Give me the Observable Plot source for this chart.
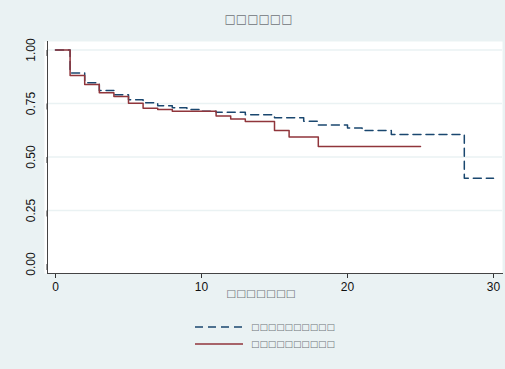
<!DOCTYPE html>
<html>
<head>
<meta charset="utf-8">
<script src="https://cdn.jsdelivr.net/npm/d3@7"></script>
<script src="https://cdn.jsdelivr.net/npm/@observablehq/plot@0.6"></script>
<style>
  html, body { margin: 0; padding: 0; background: #eaf2f3; }
  body { width: 505px; height: 369px; overflow: hidden; font-family: "Liberation Sans", Arial, sans-serif; }
  #title { height: 35px; position: relative; }
  #title span { position: absolute; left: 258.5px; top: 19px; transform: translate(-50%, -50%); font-family: "DejaVu Sans"; font-size: 12px; color: #6f7479; white-space: nowrap; }
  #legend { position: relative; height: 64px; }
  .sw { position: absolute; left: 195px; width: 48px; height: 4px; }
  .lab { position: absolute; left: 251px; font-family: "DejaVu Sans"; font-size: 8.9px; color: #6f7479; white-space: nowrap; transform: translateY(-50%); }
  svg.plot { display: block; }
</style>
</head>
<body>
<div id="title"><span></span></div>
<div id="chart"></div>
<div id="legend"></div>
<script>
// ---- data ----
const titleText = "□□□□□□";
const xTitle = "□□□□□□□";
const seriesNames = ["□□□□□□□□□□", "□□□□□□□□□□"];
const xTicks = [0, 10, 20, 30];
const yTicks = [0, 0.25, 0.5, 0.75, 1];

const blueTime = [0, 1, 2, 3, 4, 5, 6, 7, 8, 9, 10, 11, 13, 15, 17, 18, 20, 21, 23, 28, 30];
const blueSurv = [1, 0.893, 0.847, 0.811, 0.791, 0.767, 0.753, 0.739, 0.730, 0.722, 0.714, 0.709, 0.697, 0.683, 0.667, 0.649, 0.636, 0.624, 0.605, 0.401, 0.401];

const redTime = [0, 1, 2, 3, 4, 5, 6, 7, 8, 11, 12, 13, 15, 16, 18, 25];
const redSurv = [1, 0.881, 0.839, 0.800, 0.783, 0.751, 0.728, 0.722, 0.714, 0.691, 0.678, 0.666, 0.624, 0.593, 0.549, 0.549];

const blueColor = "#1a476f";
const redColor = "#90353b";
const dash = "8,5";

const blue = blueTime.map((t, i) => ({t, s: blueSurv[i]}));
const red = redTime.map((t, i) => ({t, s: redSurv[i]}));

document.querySelector("#title span").textContent = titleText;

const plot = Plot.plot({
  width: 505,
  height: 270,
  marginTop: 6,
  marginLeft: 47,
  marginRight: 3,
  marginBottom: 32,
  style: {background: "transparent", fontFamily: "'Liberation Sans', Arial, sans-serif", fontSize: "12px", color: "#111"},
  x: {domain: [-0.548, 30.616]},
  y: {domain: [-0.0444, 1.0397]},
  marks: [
    Plot.frame({fill: "white", stroke: null, insetLeft: -3}),
    Plot.gridY(yTicks.filter(v => v > 0), {stroke: "#eaf2f3", strokeOpacity: 1, strokeWidth: 1.5}),
    Plot.axisY(yTicks, {tickFormat: d => d.toFixed(2), rotate: -90, textAnchor: "middle", tickSize: 6, tickPadding: 10, label: null, stroke: "#333"}),
    Plot.axisX(xTicks, {tickSize: 5, tickPadding: 4, label: null, stroke: "#333"}),
    Plot.frame({anchor: "left", stroke: "#444"}),
    Plot.frame({anchor: "bottom", stroke: "#444"}),
    Plot.line(blue, {x: "t", y: "s", curve: "step-after", stroke: blueColor, strokeWidth: 1.5, strokeDasharray: dash}),
    Plot.line(red, {x: "t", y: "s", curve: "step-after", stroke: redColor, strokeWidth: 1.5}),
    Plot.text([xTitle], {frameAnchor: "bottom", dy: 20, dx: -14, lineAnchor: "middle", fontFamily: "DejaVu Sans", fontSize: 10.5, fill: "#6f7479"})
  ]
});
document.getElementById("chart").appendChild(plot);

// legend
const legend = document.getElementById("legend");
const rows = [
  {name: seriesNames[0], color: blueColor, dash: dash, y: 21.7},
  {name: seriesNames[1], color: redColor, dash: null, y: 39.3}
];
for (const r of rows) {
  const ns = "http://www.w3.org/2000/svg";
  const svg = document.createElementNS(ns, "svg");
  svg.setAttribute("class", "sw");
  svg.setAttribute("width", 48);
  svg.setAttribute("height", 4);
  svg.style.top = (r.y - 2) + "px";
  const ln = document.createElementNS(ns, "line");
  ln.setAttribute("x1", 0); ln.setAttribute("x2", 48);
  ln.setAttribute("y1", 2); ln.setAttribute("y2", 2);
  ln.setAttribute("stroke", r.color);
  ln.setAttribute("stroke-width", 1.5);
  if (r.dash) ln.setAttribute("stroke-dasharray", r.dash);
  svg.appendChild(ln);
  legend.appendChild(svg);
  const lab = document.createElement("div");
  lab.className = "lab";
  lab.style.top = r.y + "px";
  lab.textContent = r.name;
  legend.appendChild(lab);
}
</script>
</body>
</html>
